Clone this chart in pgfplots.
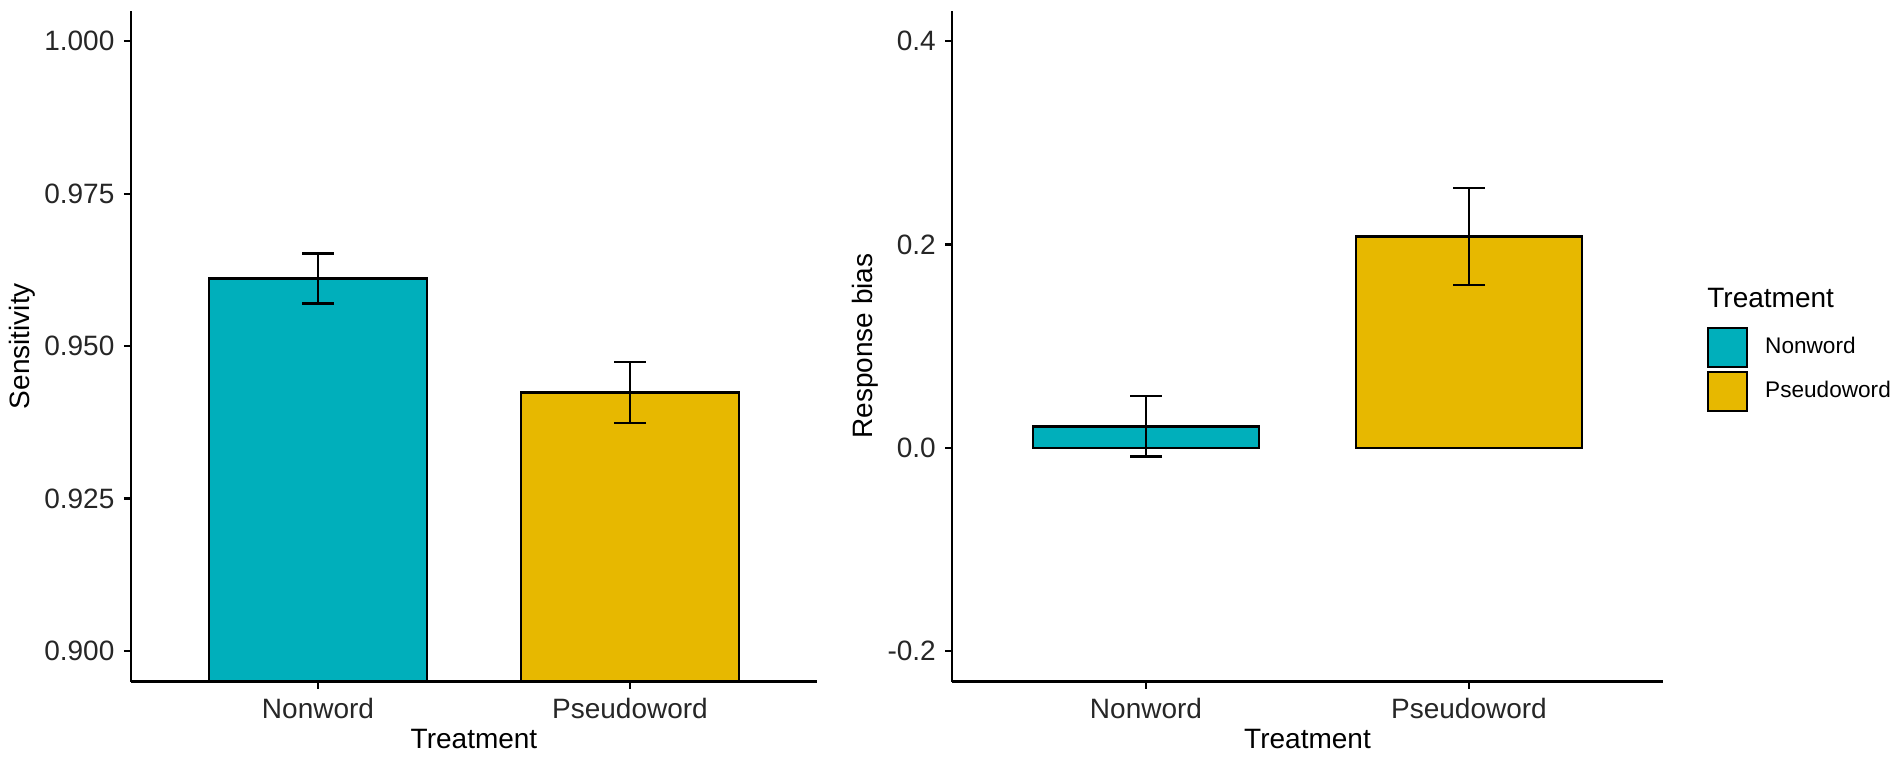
\documentclass[border=0pt]{standalone}
\usepackage{fontspec}
\setmainfont{Liberation Sans}
\usepackage{pgfplots}
\pgfplotsset{compat=1.18}
\definecolor{cNon}{HTML}{00AFBB}
\definecolor{cPse}{HTML}{E7B800}
\begin{document}
\fontsize{14}{16}\selectfont
\begin{tikzpicture}
\path[use as bounding box] (0,0) rectangle (950.5pt,381pt);
\pgfplotsset{
  myax/.style={
    scale only axis,
    anchor=south west,
    height=335.35pt,
    xmin=0.4, xmax=2.6,
    xtick={1,2}, xticklabels={Nonword,Pseudoword},
    axis x line*=bottom, axis y line*=left,
    axis line style={line width=1.1pt, -},
    major tick style={line width=1.1pt, black},
    major tick length=3.5pt,
    tick align=outside,
    minor tick num=0,
    tick label style={font=\fontsize{14}{16}\selectfont, text=black!85, inner sep=0pt},
    xticklabel style={anchor=north},
    yticklabel style={anchor=east},
    xticklabel shift=4.5pt, yticklabel shift=4.5pt,
    label style={font=\fontsize{14}{16}\selectfont, inner sep=0pt},
    every axis x label/.style={at={(axis description cs:0.5,-0.1006)}, anchor=base},
    ybar, bar width=0.7, bar shift=0pt,
    legend image code/.code={\draw[##1, line width=1.1pt] (0pt,-9.75pt) rectangle (19.5pt,9.75pt);},
  },
  myerr/.style={error bars/.cd, y dir=both, y explicit,
    error bar style={line width=1.15pt, black},
    error mark options={line width=1.15pt, mark size=8pt, black, rotate=90}},
}
% Left panel
\begin{axis}[myax, at={(65.4pt,40.25pt)}, width=343.2pt,
  ymin=0.895, ymax=1.005,
  ytick={0.9,0.925,0.95,0.975,1.0},
  yticklabels={0.900,0.925,0.950,0.975,1.000},
  xlabel={Treatment}, ylabel={Sensitivity},
  every axis y label/.style={at={(axis description cs:-0.1585,0.5)}, rotate=90, anchor=center},
]
\addplot[fill=cNon, draw=black, line width=1.1pt, myerr] coordinates {(1,0.9611) +- (0,0.0041)};
\addplot[fill=cPse, draw=black, line width=1.1pt, myerr] coordinates {(2,0.9424) +- (0,0.0050)};
\end{axis}
% Right panel
\begin{axis}[myax, at={(476.1pt,40.25pt)}, width=355.3pt,
  ymin=-0.23, ymax=0.43,
  ytick={-0.2,0,0.2,0.4},
  yticklabels={-0.2,0.0,0.2,0.4},
  xlabel={Treatment}, ylabel={Response bias},
  every axis y label/.style={at={(axis description cs:-0.1227,0.5)}, rotate=90, anchor=center},
  legend style={at={(axis description cs:1.0622,0.5286)}, anchor=north west,
    draw=none, fill=none, inner sep=0pt, outer sep=0pt,
    row sep=1.25pt, column sep=8.5pt,
    font=\fontsize{11.3}{13}\selectfont,
    nodes={inner sep=0pt, outer sep=0pt},
    cells={anchor=west}},
]
\addplot[fill=cNon, draw=black, line width=1.1pt, myerr] coordinates {(1,0.021) +- (0,0.0297)};
\addlegendentry{Nonword}
\addplot[fill=cPse, draw=black, line width=1.1pt, myerr] coordinates {(2,0.2079) +- (0,0.0478)};
\addlegendentry{Pseudoword}
\end{axis}
\node[anchor=base west, inner sep=0pt, font=\fontsize{14}{16}\selectfont] at (853.5pt,227.2pt) {Treatment};
\end{tikzpicture}
\end{document}
